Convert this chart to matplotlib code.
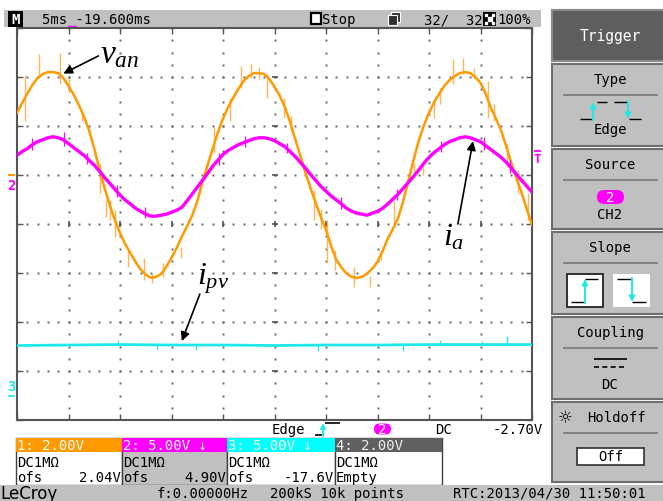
import numpy as np
import matplotlib
matplotlib.use("Agg")
import matplotlib.pyplot as plt
from matplotlib.patches import Rectangle, FancyBboxPatch

# scope time base: 5 ms/div x 10 div, sampled every 0.5 ms; vertical in screen divisions (-4..4)
t_ms = np.arange(0, 50.25, 0.5)
van = [2.27, 2.47, 2.66, 2.84, 2.98, 3.06, 3.10, 3.10, 3.08, 2.98,
       2.82, 2.64, 2.43, 2.19, 1.91, 1.54, 1.12, 0.73, 0.39, 0.08,
       -0.18, -0.41, -0.59, -0.77, -0.93, -1.03, -1.10, -1.08, -1.02, -0.87,
       -0.69, -0.49, -0.26, -0.05, 0.17, 0.46, 0.85, 1.20, 1.54, 1.87,
       2.15, 2.39, 2.58, 2.76, 2.92, 3.02, 3.08, 3.08, 3.06, 2.96,
       2.80, 2.62, 2.39, 2.09, 1.74, 1.40, 1.05, 0.73, 0.43, 0.14,
       -0.12, -0.45, -0.73, -0.89, -1.01, -1.08, -1.10, -1.08, -1.01, -0.91,
       -0.77, -0.55, -0.30, -0.10, 0.12, 0.47, 0.89, 1.30, 1.70, 2.01,
       2.27, 2.49, 2.66, 2.82, 2.94, 3.02, 3.08, 3.10, 3.08, 3.00,
       2.88, 2.66, 2.37, 2.15, 1.91, 1.58, 1.24, 0.93, 0.63, 0.30, -0.02]
ia = [1.40, 1.48, 1.54, 1.62, 1.68, 1.72, 1.76, 1.78, 1.76, 1.72,
      1.64, 1.56, 1.48, 1.40, 1.30, 1.20, 1.08, 0.95, 0.83, 0.71,
      0.59, 0.49, 0.41, 0.32, 0.26, 0.20, 0.16, 0.16, 0.18, 0.20,
      0.24, 0.28, 0.34, 0.47, 0.61, 0.75, 0.89, 1.03, 1.18, 1.30,
      1.42, 1.50, 1.56, 1.62, 1.66, 1.70, 1.74, 1.76, 1.76, 1.74,
      1.70, 1.64, 1.58, 1.48, 1.38, 1.26, 1.14, 1.01, 0.89, 0.77,
      0.67, 0.57, 0.49, 0.41, 0.32, 0.26, 0.22, 0.20, 0.18, 0.22,
      0.26, 0.32, 0.41, 0.51, 0.61, 0.73, 0.85, 0.97, 1.10, 1.24,
      1.36, 1.46, 1.54, 1.62, 1.68, 1.72, 1.76, 1.78, 1.76, 1.72,
      1.68, 1.60, 1.52, 1.44, 1.36, 1.26, 1.14, 1.01, 0.89, 0.77, 0.65]
ipv_t = [0, 5, 10, 15, 20, 25, 30, 35, 40, 45, 50]
ipv = [-2.48, -2.47, -2.46, -2.47, -2.47, -2.48, -2.47, -2.47, -2.46, -2.46, -2.46]

# switching spikes (time, low, high)
van_spk_t = [0.8, 2.1, 4.2, 5.0, 6.3, 8.1, 8.6, 9.0, 9.5, 10.8, 12.3, 13.1, 14.2, 15.9,
             19.1, 20.7, 21.7, 22.7, 23.5, 24.3, 25.9, 26.6, 28.8, 29.5, 30.1, 30.9,
             32.7, 34.3, 35.3, 36.6, 38.5, 39.4, 40.5, 41.1, 42.3, 43.3, 44.4, 45.7,
             46.3, 47.6, 48.6, 49.6]
van_spk_lo = [2.10, 3.02, 2.86, 2.68, 2.10, 0.63, 0.14, 0.08, -0.26, -0.87, -1.14, -1.20,
              -1.08, -0.69, 1.44, 2.11, 2.78, 2.98, 2.96, 2.58, 2.17, 1.90, 0.08, -0.10,
              -0.79, -0.93, -1.28, -1.28, -0.73, -0.06, 0.97, 1.00, 2.17, 2.45, 2.86,
              3.06, 2.96, 2.17, 2.11, 1.16, 0.63, 0.08]
van_spk_hi = [3.05, 3.47, 3.49, 2.98, 2.30, 1.24, 0.49, 0.49, 0.28, -0.53, -0.69, -1.00,
              -0.79, -0.47, 1.97, 2.58, 3.22, 3.26, 3.20, 3.06, 2.58, 2.20, 0.69, 0.30,
              0.08, -0.53, -0.87, -1.06, -0.53, 0.49, 1.24, 1.20, 2.52, 2.78, 3.37,
              3.39, 3.18, 2.92, 2.45, 1.64, 1.10, 0.63]
ia_spk_t = [1.5, 4.6, 6.8, 9.7, 12.4, 19.6, 22.1, 26.2, 31.5, 36.9, 41.2, 45.3, 47.9]
ia_spk_lo = [1.52, 1.60, 1.22, 0.55, 0.12, 1.20, 1.58, 1.44, 0.30, 0.48, 1.47, 1.52, 1.05]
ia_spk_hi = [1.75, 1.88, 1.45, 0.80, 0.34, 1.45, 1.80, 1.66, 0.55, 0.72, 1.70, 1.78, 1.30]
ipv_spk_t = [9.8, 13.6, 17.4, 29.2, 37.5, 41.1, 45.1, 47.6]
ipv_spk_lo = [-2.47, -2.55, -2.57, -2.59, -2.59, -2.47, -2.47, -2.47]
ipv_spk_hi = [-2.37, -2.47, -2.47, -2.47, -2.47, -2.37, -2.39, -2.29]

ORANGE, ORANGE_LT = "#ff9a00", "#ffb65a"
MAGENTA, CYAN = "#ff00ff", "#1ee8ea"
PANEL, DARK = "#c0c0c0", "#5e5e5e"
MONO = ["DejaVu Sans Mono", "DejaVu Sans"]

plt.rcParams.update({"mathtext.fontset": "custom",
                     "mathtext.it": "Liberation Serif:italic",
                     "mathtext.rm": "Liberation Serif"})

W, H = 663, 502
fig = plt.figure(figsize=(W / 100, H / 100), dpi=100)
ui = fig.add_axes([0, 0, 1, 1], zorder=0)
ui.set_xlim(0, W); ui.set_ylim(H, 0); ui.axis("off")


def box(x0, y0, x1, y1, fc, ec="none", lw=1.0, z=1):
    ui.add_patch(Rectangle((x0, y0), x1 - x0, y1 - y0, facecolor=fc, edgecolor=ec, lw=lw, zorder=z))


def txt(x, y, s, color="black", ha="left", size=10, **kw):
    ui.text(x, y, s, color=color, ha=ha, va="center", fontsize=size, family=MONO, zorder=5, **kw)


def line(xs, ys, color="black", lw=1.0, **kw):
    ui.plot(xs, ys, color=color, lw=lw, solid_capstyle="butt", zorder=4, **kw)


def arrow(x0, y0, x1, y1, color, ms=8):
    ui.annotate("", xy=(x1, y1), xytext=(x0, y0), zorder=6,
                arrowprops=dict(arrowstyle="-|>", color=color, lw=1.4, mutation_scale=ms,
                                shrinkA=0, shrinkB=0))


# ---- top status bar
box(4, 11, 541, 28, PANEL)
box(8, 12, 23, 28, "black", z=2)
txt(15.5, 20.5, "M", color="white", ha="center", size=10, fontweight="bold")
txt(42, 20, "5ms -19.600ms")
box(311, 14, 321, 25, "white", ec="black", lw=1.6, z=2)
txt(322, 20, "Stop")
box(391, 13, 400, 23, "#303030", ec="white", lw=0.8, z=2)
box(388, 16, 397, 26, "#303030", ec="white", lw=0.8, z=3)
txt(424, 20, "32/  32")
box(483, 13, 496, 27, "black", z=2)
ui.plot([486, 493, 486, 493], [16, 16, 24, 24], ls="", marker="s", ms=2, color="white", zorder=3)
ui.plot([489.5], [20], ls="", marker="s", ms=3, color="white", zorder=3)
txt(497, 20, "100%")

# ---- scope graticule
sc = fig.add_axes([17 / W, (H - 421) / H, 515 / W, 392 / H], zorder=1)
sc.set_xlim(0, 50); sc.set_ylim(-4, 4)
sc.set_xticks(np.arange(0, 51, 5)); sc.set_yticks(np.arange(-4, 5, 1))
sc.tick_params(direction="in", length=4, width=1, color="#555555", top=True, right=True,
               labelbottom=False, labelleft=False)
for s in sc.spines.values():
    s.set_color("#555555"); s.set_linewidth(1.5)
for k in range(1, 10):
    yy = np.arange(-4, 4.01, 0.25)
    sc.plot(np.full_like(yy, 5 * k), yy, ls="", marker="s", ms=1.4, mew=0, color="#666666", zorder=1)
for j in range(-3, 4):
    xx = np.arange(0, 50.01, 1.0)
    sc.plot(xx, np.full_like(xx, j), ls="", marker="s", ms=1.4, mew=0, color="#666666", zorder=1)
sc.plot(np.full(7, 25), np.arange(-3, 4), ls="", marker="_", ms=5, mew=1.2, color="#555555", zorder=1)
sc.plot(np.arange(5, 50, 5), np.zeros(9), ls="", marker="|", ms=5, mew=1.2, color="#555555", zorder=1)

# ---- traces
sc.vlines(van_spk_t, van_spk_lo, van_spk_hi, color=ORANGE_LT, lw=1.0, zorder=3)
sc.plot(t_ms, van, color=ORANGE, lw=1.8, zorder=4)
sc.vlines(ia_spk_t, ia_spk_lo, ia_spk_hi, color=MAGENTA, lw=0.9, zorder=5)
sc.plot(t_ms, ia, color=MAGENTA, lw=2.4, zorder=5)
sc.vlines(ipv_spk_t, ipv_spk_lo, ipv_spk_hi, color=CYAN, lw=0.9, zorder=5)
sc.plot(ipv_t, ipv, color=CYAN, lw=2.0, zorder=5)

# ---- labels and arrows
aprops = dict(arrowstyle="-|>", color="black", lw=1.2, mutation_scale=13, shrinkA=0, shrinkB=0)
sc.text(8.1, 3.31, r"$v_{an}$", fontsize=24, ha="left", va="baseline", zorder=7)
sc.annotate("", xy=(4.5, 3.07), xytext=(7.9, 3.43), arrowprops=aprops, zorder=7)
sc.text(41.4, -0.41, r"$i_{a}$", fontsize=23, ha="left", va="baseline", zorder=7)
sc.annotate("", xy=(44.27, 1.69), xytext=(42.8, 0.0), arrowprops=aprops, zorder=7)
sc.text(17.5, -1.22, r"$i_{pv}$", fontsize=23, ha="left", va="baseline", zorder=7)
sc.annotate("", xy=(16.0, -2.39), xytext=(17.75, -1.43), arrowprops=aprops, zorder=7)

# ---- channel markers around graticule
ui.plot([72], [31], ls="", marker="v", ms=6, color=MAGENTA, zorder=4)
line([8, 15], [175.5, 175.5], color=ORANGE, lw=1.5)
txt(11.5, 186, "2", color=MAGENTA, ha="center", size=10, fontweight="bold")
txt(11.5, 387, "3", color=CYAN, ha="center", size=10, fontweight="bold")
line([8, 15], [397, 397], color=CYAN, lw=1.2)
line([534, 541], [152, 152], color=MAGENTA, lw=1.3)
txt(537.5, 160, "T", color=MAGENTA, ha="center", size=9, fontweight="bold")

# ---- trigger line under the graticule
txt(272, 430, "Edge")
line([315, 323], [436, 436], lw=1.2)
line([325, 340], [424, 424], lw=1.2)
arrow(323, 437, 323, 424, CYAN, ms=7)
ui.add_patch(FancyBboxPatch((374, 424.5), 17, 11, boxstyle="round,pad=0,rounding_size=5.5",
                            fc=MAGENTA, ec="none", zorder=3))
txt(382.5, 430, "2", color="white", ha="center")
txt(435, 430, "DC")
txt(543, 430, "-2.70V", ha="right")

# ---- channel boxes
chan_hdr = ["1: 2.00V", "2: 5.00V \u2193", "3: 5.00V \u2193", "4: 2.00V"]
chan_ofs = ["2.04V", "4.90V", "-17.6V", ""]
hdr_fc = [ORANGE, MAGENTA, "#00ffff", "#606060"]
body_fc = ["white", PANEL, "white", "white"]
edges = [16, 122, 227, 335, 442]
for i in range(4):
    x0, x1 = edges[i], edges[i + 1]
    box(x0, 439, x1, 486, body_fc[i], ec="#404040", lw=1.0)
    box(x0, 439, x1, 453, hdr_fc[i], z=2)
    txt(x0 + 1, 446, chan_hdr[i], color="white" if i < 3 else "#eeeeee")
    txt(x0 + 1, 463, "DC1M\u03a9")
    if i < 3:
        txt(x0 + 1, 478, "ofs")
        txt(x1 - 1, 478, chan_ofs[i], ha="right")
    else:
        txt(x0 + 1, 478, "Empty")

# ---- bottom status bar
box(0, 486, W, 502, PANEL)
ui.text(0, 494, "LeCroy", fontsize=12, family="DejaVu Sans", va="center", ha="left", zorder=5)
txt(157, 494, "f:0.00000Hz")
txt(270, 494, "200kS 10k points")
txt(453, 494, "RTC:2013/04/30 11:50:01")

# ---- right-hand trigger menu
PX0, CX = 552, 610
box(PX0, 11, 670, 62, DARK, ec="#8a8a8a", lw=1.5)
txt(CX, 37, "Trigger", color="white", ha="center", size=10.5)
panels = [(65, 147, "Type"), (150, 230, "Source"), (233, 315, "Slope"),
          (318, 400, "Coupling"), (403, 483, "Holdoff")]
for y0, y1, name in panels:
    box(PX0, y0, 670, y1, PANEL, ec="#6e6e6e", lw=1.5)
    line([563, 658], [y0 + 31, y0 + 31], color="#7a7a7a", lw=1.2)
    txt(CX + (6 if name == "Holdoff" else 0), y0 + 15, name, ha="center")

# Type: edge pulse icon
line([580, 592], [120, 120]); line([597, 607], [103, 103])
line([614, 627], [103, 103]); line([629, 641], [120, 120])
arrow(593, 121, 593, 103, CYAN); arrow(628, 102, 628, 120, CYAN)
txt(CX, 130, "Edge", ha="center")
# Source
ui.add_patch(FancyBboxPatch((597, 191), 27, 14, boxstyle="round,pad=0,rounding_size=7",
                            fc=MAGENTA, ec="none", zorder=3))
txt(610.5, 198, "2", color="white", ha="center")
txt(CX, 215, "CH2", ha="center")
# Slope icons
box(567, 275, 603, 308, "white", ec="#303030", lw=1.4, z=2)
box(613, 275, 650, 308, "white", z=2)
line([571, 585], [303, 303]); line([585, 598], [280, 280])
arrow(585, 304, 585, 280, CYAN)
line([617, 632], [280, 280]); line([632, 646], [303, 303])
arrow(632, 279, 632, 303, CYAN)
# Coupling
line([594, 627], [360, 360], lw=1.2)
line([594, 627], [368, 368], lw=1.2, ls=(0, (3, 2)))
txt(CX, 385, "DC", ha="center")
# Holdoff
ui.text(565, 418, "\u263c", fontsize=12, family="DejaVu Sans", ha="center", va="center", zorder=5)
box(577, 449, 644, 466, "white", ec="#303030", lw=1.2, z=2)
txt(610.5, 457.5, "Off", ha="center")

fig.savefig("out.png", dpi=100)
